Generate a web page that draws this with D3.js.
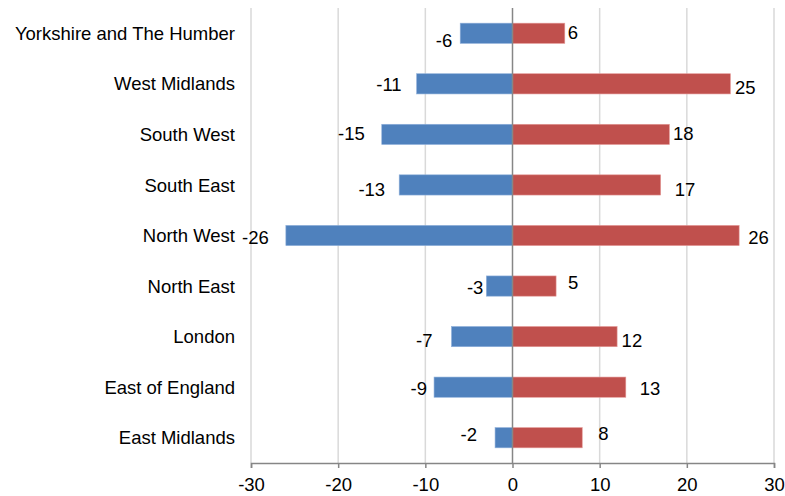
<!DOCTYPE html>
<html>
<head>
<meta charset="utf-8">
<script src="https://cdn.jsdelivr.net/npm/d3@7"></script>
<style>
  html, body { margin: 0; padding: 0; background: #fff; }
  svg { display: block; }
  text { font-family: "Liberation Sans", Arial, sans-serif; fill: #000; }
</style>
</head>
<body>
<svg id="chart" width="785" height="496"></svg>
<script>
// Regions, listed top to bottom
const regions = [
  "Yorkshire and The Humber",
  "West Midlands",
  "South West",
  "South East",
  "North West",
  "North East",
  "London",
  "East of England",
  "East Midlands"
];
const negativeValues = [-6, -11, -15, -13, -26, -3, -7, -9, -2];
const positiveValues = [6, 25, 18, 17, 26, 5, 12, 13, 8];
const xTicks = [-30, -20, -10, 0, 10, 20, 30];

// Hand-placed label nudges [dx, dy] in pixels, per region
const negLabelNudge = [[-8, 7], [-15, 1], [-17, -1], [-14, 4], [-17, 2], [-3, 1], [-19, 4], [-7, 1], [-18, -3]];
const posLabelNudge = [[3, -1], [4.5, 3.5], [3.5, -1], [14, 4], [9, 2], [12, -4], [4.5, 3.5], [14, 1], [16, -4]];

const svg = d3.select("#chart");
const plot = { left: 251, right: 774, top: 8, bottom: 463 };

const x = d3.scaleLinear().domain([-30, 30]).range([plot.left, plot.right]);
const y = d3.scaleBand().domain(regions).range([plot.top, plot.bottom])
  .paddingInner(0.6).paddingOuter(0.3);

const fontSize = 18.5;

// Vertical gridlines
svg.append("g").selectAll("line")
  .data(xTicks.filter(d => d !== 0))
  .join("line")
  .attr("x1", d => x(d)).attr("x2", d => x(d))
  .attr("y1", plot.top).attr("y2", plot.bottom)
  .attr("stroke", "#d9d9d9").attr("stroke-width", 1.5);

// Bars
const rows = regions.map((r, i) => ({ r, i, neg: negativeValues[i], pos: positiveValues[i] }));

svg.append("g").selectAll("rect")
  .data(rows)
  .join("rect")
  .attr("x", d => x(d.neg))
  .attr("y", d => y(d.r))
  .attr("width", d => x(0) - x(d.neg))
  .attr("height", y.bandwidth())
  .attr("fill", "#4f81bd")
  .attr("stroke", "#8fb0da").attr("stroke-width", 0.6);

svg.append("g").selectAll("rect")
  .data(rows)
  .join("rect")
  .attr("x", x(0))
  .attr("y", d => y(d.r))
  .attr("width", d => x(d.pos) - x(0))
  .attr("height", y.bandwidth())
  .attr("fill", "#c0504d")
  .attr("stroke", "#e49a98").attr("stroke-width", 0.6);

// Zero line
svg.append("line")
  .attr("x1", x(0)).attr("x2", x(0))
  .attr("y1", plot.top).attr("y2", plot.bottom)
  .attr("stroke", "#868686").attr("stroke-width", 1.5);

// Bottom axis (plain hyphen for negative ticks)
const xAxis = d3.axisBottom(x).tickValues(xTicks).tickSize(5).tickPadding(10)
  .tickFormat(d => String(d));
const axisG = svg.append("g")
  .attr("transform", `translate(0,${plot.bottom})`)
  .call(xAxis);
axisG.select(".domain").attr("stroke", "#868686").attr("stroke-width", 1.5);
axisG.selectAll(".tick line").attr("stroke", "#868686").attr("stroke-width", 1.5);
axisG.selectAll(".tick text")
  .attr("font-size", fontSize)
  .attr("font-family", "'Liberation Sans', Arial, sans-serif")
  .attr("fill", "#000");

// Category labels
svg.append("g").selectAll("text")
  .data(rows)
  .join("text")
  .attr("x", 235)
  .attr("y", d => y(d.r) + y.bandwidth() / 2)
  .attr("dy", "0.36em")
  .attr("text-anchor", "end")
  .attr("font-size", fontSize)
  .text(d => d.r);

// Value labels
svg.append("g").selectAll("text")
  .data(rows)
  .join("text")
  .attr("x", d => x(d.neg) + negLabelNudge[d.i][0])
  .attr("y", d => y(d.r) + y.bandwidth() / 2 + negLabelNudge[d.i][1])
  .attr("dy", "0.36em")
  .attr("text-anchor", "end")
  .attr("font-size", fontSize)
  .text(d => d.neg);

svg.append("g").selectAll("text")
  .data(rows)
  .join("text")
  .attr("x", d => x(d.pos) + posLabelNudge[d.i][0])
  .attr("y", d => y(d.r) + y.bandwidth() / 2 + posLabelNudge[d.i][1])
  .attr("dy", "0.36em")
  .attr("text-anchor", "start")
  .attr("font-size", fontSize)
  .text(d => d.pos);
</script>
</body>
</html>
